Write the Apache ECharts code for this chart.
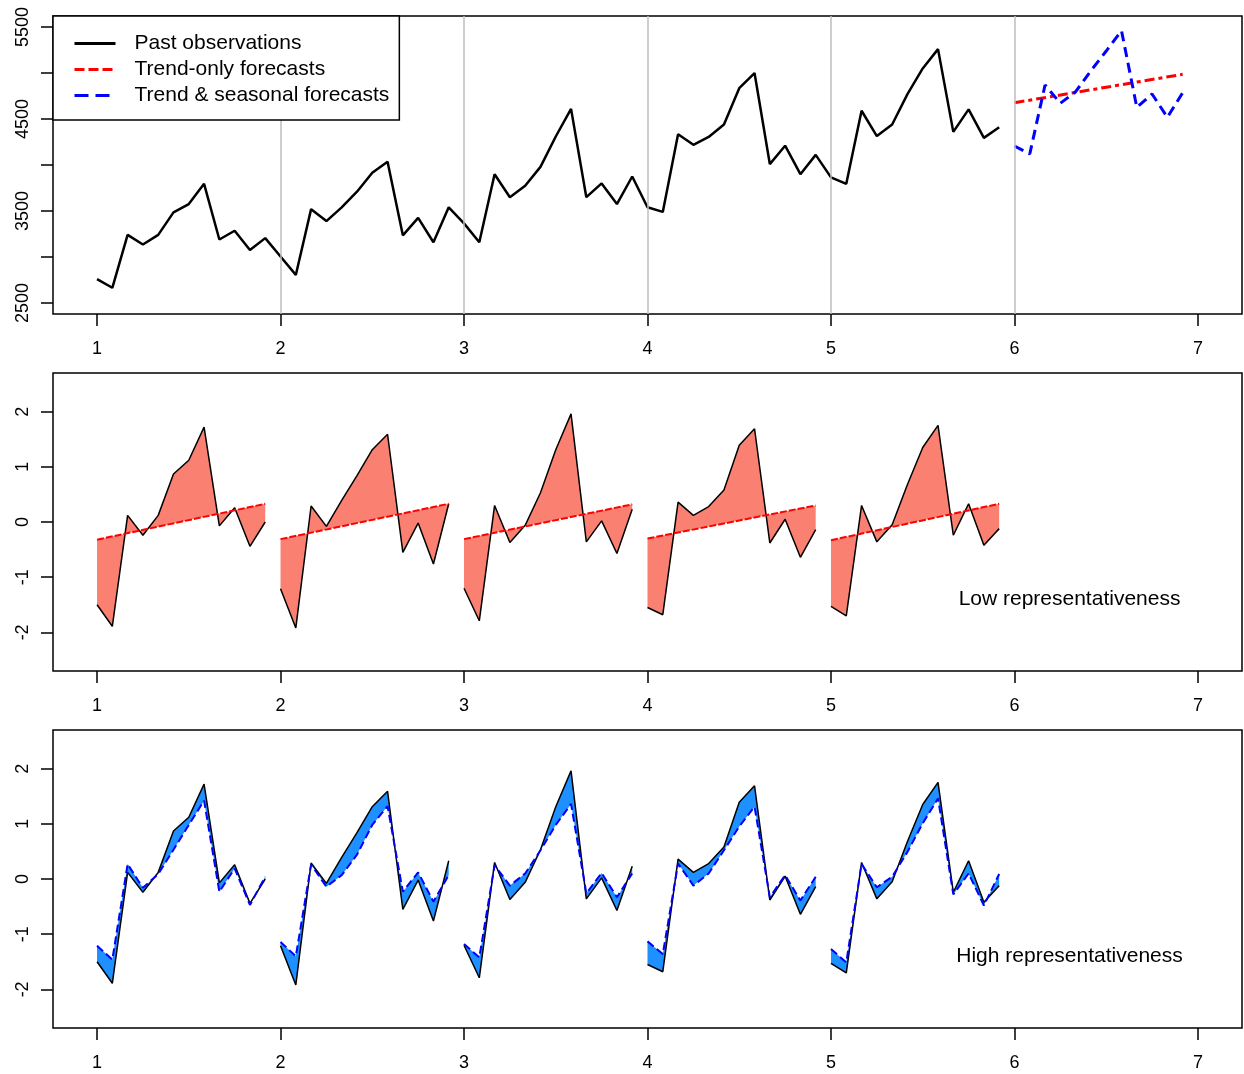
<!DOCTYPE html>
<html>
<head>
<meta charset="utf-8">
<script src="https://cdn.jsdelivr.net/npm/echarts@6/dist/echarts.min.js"></script>
<style>
html,body{margin:0;padding:0;background:#fff;}
#chart{width:1244px;height:1074px;}
</style>
</head>
<body>
<div id="chart"></div>
<script>
// ---------- data ----------
const years = [1, 2, 3, 4, 5];
const monthsPerYear = 12;
const xTicks = [1, 2, 3, 4, 5, 6, 7];
const yearLines = [2, 3, 4, 5, 6];
const topYTicks = [2500, 3000, 3500, 4000, 4500, 5000, 5500];
const topYLabels = [2500, 3500, 4500, 5500];
const normYTicks = [-2, -1, 0, 1, 2];

// past observations (top panel)
const obs1 = [2760, 2665, 3240, 3135, 3240, 3485, 3575, 3795, 3190, 3285, 3075, 3205];
const obs2 = [3005, 2805, 3520, 3390, 3540, 3710, 3915, 4035, 3235, 3425, 3160, 3540];
const obs3 = [3365, 3160, 3900, 3650, 3775, 3980, 4310, 4610, 3650, 3800, 3575, 3875];
const obs4 = [3540, 3490, 4335, 4220, 4305, 4440, 4835, 5000, 4010, 4210, 3900, 4110];
const obs5 = [3865, 3795, 4590, 4315, 4440, 4770, 5050, 5260, 4360, 4605, 4295, 4410];

// forecasts for year 6
const forecastYear = 6;
const trendForecastEnds = [4677, 4986];           // start, end of trend-only line
const seasonalForecast = [4207, 4120, 4870, 4671, 4797, 5025, 5239, 5460, 4627, 4772, 4518, 4786];

// normalised observations per year (middle & bottom panels)
const norm1 = [-1.50, -1.89, 0.12, -0.24, 0.12, 0.87, 1.12, 1.72, -0.07, 0.26, -0.44, 0.00];
const norm2 = [-1.21, -1.92, 0.29, -0.08, 0.39, 0.84, 1.31, 1.59, -0.55, -0.02, -0.76, 0.33];
const norm3 = [-1.20, -1.79, 0.30, -0.37, -0.06, 0.53, 1.31, 1.96, -0.36, 0.02, -0.57, 0.23];
const norm4 = [-1.55, -1.68, 0.36, 0.12, 0.28, 0.58, 1.39, 1.69, -0.38, 0.05, -0.64, -0.14];
const norm5 = [-1.53, -1.70, 0.30, -0.36, -0.05, 0.68, 1.35, 1.75, -0.24, 0.33, -0.42, -0.12];

// normalised trend-only line per year (start, end)
const trendNormStart = [-0.32, -0.31, -0.31, -0.30, -0.33];
const trendNormEnd   = [0.33, 0.33, 0.32, 0.30, 0.33];

// normalised trend & seasonal forecasts per year (bottom panel)
const seas1 = [-1.21, -1.46, 0.27, -0.16, 0.09, 0.53, 0.98, 1.42, -0.23, 0.19, -0.47, 0.04];
const seas2 = [-1.14, -1.40, 0.26, -0.14, 0.07, 0.44, 0.98, 1.32, -0.23, 0.12, -0.41, 0.07];
const seas3 = [-1.18, -1.42, 0.25, -0.12, 0.10, 0.52, 0.98, 1.36, -0.26, 0.11, -0.33, 0.10];
const seas4 = [-1.13, -1.36, 0.28, -0.12, 0.10, 0.52, 0.95, 1.31, -0.33, 0.07, -0.39, 0.04];
const seas5 = [-1.27, -1.51, 0.27, -0.15, 0.04, 0.49, 1.01, 1.46, -0.28, 0.10, -0.48, 0.09];

const labelLow = 'Low representativeness';
const labelHigh = 'High representativeness';
const labelPos = [6.3, -1.4];

// ---------- build ----------
const obsByYear = [obs1, obs2, obs3, obs4, obs5];
const normByYear = [norm1, norm2, norm3, norm4, norm5];
const seasByYear = [seas1, seas2, seas3, seas4, seas5];
const tx = (year, m) => year + m / monthsPerYear;

const topObsData = [];
obsByYear.forEach((arr, i) => arr.forEach((v, m) => topObsData.push([tx(years[i], m), v])));
const trendData = [[tx(forecastYear, 0), trendForecastEnds[0]], [tx(forecastYear, 11), trendForecastEnds[1]]];
const seasData = seasonalForecast.map((v, m) => [tx(forecastYear, m), v]);

const FONT = 'Liberation Sans';
const BLACK = '#000000';
const plain = v => String(v);

function xAxisFor(gi) {
  return {
    type: 'value', gridIndex: gi, min: 0.76, max: 7.24,
    axisLine: {show: false, onZero: false},
    axisTick: {show: true, length: 12, customValues: xTicks, lineStyle: {color: BLACK, width: 1.5}},
    axisLabel: {show: true, customValues: xTicks, formatter: plain, fontSize: 18, color: BLACK, margin: 26, fontFamily: FONT},
    splitLine: {show: false}
  };
}
function yAxisFor(gi, min, max, ticks, labels) {
  return {
    type: 'value', gridIndex: gi, min: min, max: max,
    axisLine: {show: false, onZero: false},
    axisTick: {show: true, length: 12, customValues: ticks, lineStyle: {color: BLACK, width: 1.5}},
    axisLabel: {show: true, customValues: labels, formatter: plain, rotate: 90, fontSize: 18, color: BLACK, margin: 21, fontFamily: FONT},
    splitLine: {show: false}
  };
}
const gridBase = {left: 53, width: 1189, height: 298, show: true, borderColor: BLACK, borderWidth: 1.5, backgroundColor: 'transparent'};

const series = [];
// gray year lines in top panel
series.push({
  type: 'line', name: 'yearlines', xAxisIndex: 0, yAxisIndex: 0, data: [], z: 1, silent: true,
  markLine: {silent: true, symbol: ['none', 'none'], label: {show: false},
    lineStyle: {color: '#BEBEBE', width: 1.5, type: 'solid'},
    data: yearLines.map(v => ({xAxis: v}))}
});
series.push({
  type: 'line', name: 'Past observations', xAxisIndex: 0, yAxisIndex: 0, data: topObsData,
  symbol: 'none', lineStyle: {color: BLACK, width: 2.5}, itemStyle: {color: BLACK}, z: 3
});
series.push({
  type: 'line', name: 'Trend-only forecasts', xAxisIndex: 0, yAxisIndex: 0, data: trendData,
  symbol: 'none', lineStyle: {color: '#FF0000', width: 3, type: [10, 4, 4, 4]}, itemStyle: {color: '#FF0000'}, z: 4
});
series.push({
  type: 'line', name: 'Trend & seasonal forecasts', xAxisIndex: 0, yAxisIndex: 0, data: seasData,
  symbol: 'none', lineStyle: {color: '#0000FF', width: 3, type: [10, 6]}, itemStyle: {color: '#0000FF'}, z: 4
});

// middle panel fill (between observations and trend line)
series.push({
  type: 'custom', name: 'lowfill', xAxisIndex: 1, yAxisIndex: 1, silent: true, z: 2,
  data: years.map(y => [y, 0]),
  renderItem: function (params, api) {
    const i = params.dataIndex, y = years[i];
    const pts = normByYear[i].map((v, m) => api.coord([tx(y, m), v]));
    pts.push(api.coord([tx(y, 11), trendNormEnd[i]]));
    pts.push(api.coord([tx(y, 0), trendNormStart[i]]));
    return {type: 'polygon', shape: {points: pts}, style: {fill: '#FA8072', stroke: null}};
  }
});
years.forEach((y, i) => {
  series.push({
    type: 'line', name: 'mid-obs-' + y, xAxisIndex: 1, yAxisIndex: 1,
    data: normByYear[i].map((v, m) => [tx(y, m), v]),
    symbol: 'none', lineStyle: {color: BLACK, width: 1.5}, z: 3
  });
  series.push({
    type: 'line', name: 'mid-trend-' + y, xAxisIndex: 1, yAxisIndex: 1,
    data: [[tx(y, 0), trendNormStart[i]], [tx(y, 11), trendNormEnd[i]]],
    symbol: 'none', lineStyle: {color: '#FF0000', width: 2, type: [7, 2]}, z: 4
  });
});

// bottom panel fill (between observations and seasonal forecasts)
series.push({
  type: 'custom', name: 'highfill', xAxisIndex: 2, yAxisIndex: 2, silent: true, z: 2,
  data: years.map(y => [y, 0]),
  renderItem: function (params, api) {
    const i = params.dataIndex, y = years[i];
    const pts = normByYear[i].map((v, m) => api.coord([tx(y, m), v]));
    for (let m = seasByYear[i].length - 1; m >= 0; m--) pts.push(api.coord([tx(y, m), seasByYear[i][m]]));
    return {type: 'polygon', shape: {points: pts}, style: {fill: '#1E90FF', stroke: null}};
  }
});
years.forEach((y, i) => {
  series.push({
    type: 'line', name: 'bot-obs-' + y, xAxisIndex: 2, yAxisIndex: 2,
    data: normByYear[i].map((v, m) => [tx(y, m), v]),
    symbol: 'none', lineStyle: {color: BLACK, width: 1.5}, z: 3
  });
  series.push({
    type: 'line', name: 'bot-seas-' + y, xAxisIndex: 2, yAxisIndex: 2,
    data: seasByYear[i].map((v, m) => [tx(y, m), v]),
    symbol: 'none', lineStyle: {color: '#0000FF', width: 2, type: [8, 4]}, z: 4
  });
});

// annotations
[[1, labelLow], [2, labelHigh]].forEach(([gi, txt]) => {
  series.push({
    type: 'scatter', name: 'note-' + gi, xAxisIndex: gi, yAxisIndex: gi, silent: true,
    data: [labelPos], symbolSize: 0, itemStyle: {opacity: 1},
    label: {show: true, position: 'inside', formatter: txt, fontSize: 21, color: BLACK, opacity: 1, fontFamily: FONT,
      textBorderWidth: 0}
  });
});

const option = {
  animation: false,
  backgroundColor: '#ffffff',
  textStyle: {fontFamily: FONT},
  grid: [
    Object.assign({top: 16}, gridBase),
    Object.assign({top: 373}, gridBase),
    Object.assign({top: 730}, gridBase)
  ],
  xAxis: [xAxisFor(0), xAxisFor(1), xAxisFor(2)],
  yAxis: [
    yAxisFor(0, 2380, 5620, topYTicks, topYLabels),
    yAxisFor(1, -2.7, 2.7, normYTicks, normYTicks),
    yAxisFor(2, -2.7, 2.7, normYTicks, normYTicks)
  ],
  legend: {
    data: [
      {name: 'Past observations', lineStyle: {width: 3}},
      {name: 'Trend-only forecasts', lineStyle: {width: 3, type: [10, 4]}},
      {name: 'Trend & seasonal forecasts', lineStyle: {width: 3, type: [14, 7]}}
    ],
    orient: 'vertical', left: 53, top: 16,
    padding: [17, 10, 14, 20],
    itemGap: 5, itemWidth: 41, itemHeight: 21,
    borderColor: BLACK, borderWidth: 1.5, borderRadius: 0, backgroundColor: '#ffffff',
    selectedMode: false, z: 10,
    lineStyle: {width: 3},
    itemStyle: {opacity: 0, borderWidth: 0},
    textStyle: {fontSize: 21, color: BLACK, fontFamily: FONT, padding: [0, 0, 0, 14]}
  },
  series: series
};

const chart = echarts.init(document.getElementById('chart'), null, {renderer: 'canvas'});
chart.setOption(option);
</script>
</body>
</html>
